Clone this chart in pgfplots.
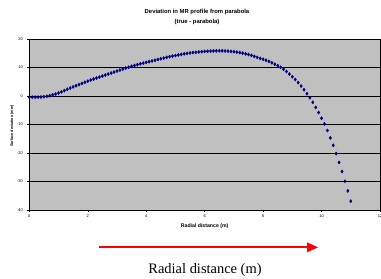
\documentclass[border=0pt]{standalone}
\usepackage{fontspec}
\setmainfont{Liberation Sans}
\newfontfamily\serifvery{Liberation Serif}
\usepackage{pgfplots}
\pgfplotsset{compat=1.18}
\usepackage{pgfplotstable}
\definecolor{navy}{RGB}{0,0,128}
\definecolor{plotgray}{RGB}{192,192,192}
\pgfplotstableread{
x y
0.0 -0.4
0.1 -0.4
0.2 -0.4
0.3 -0.4
0.4 -0.35
0.5 -0.25
0.6 -0.1
0.7 0.1
0.8 0.4
0.9 0.7
1.0 1.05
1.1 1.45
1.2 1.9
1.3 2.35
1.4 2.8
1.5 3.2
1.6 3.6
1.7 4.0
1.8 4.4
1.9 4.8
2.0 5.2
2.1 5.6
2.2 5.95
2.3 6.3
2.4 6.65
2.5 7.0
2.6 7.35
2.7 7.7
2.8 8.05
2.9 8.4
3.0 8.75
3.1 9.1
3.2 9.45
3.3 9.8
3.4 10.1
3.5 10.4
3.6 10.7
3.7 11.0
3.8 11.3
3.9 11.55
4.0 11.8
4.1 12.05
4.2 12.3
4.3 12.55
4.4 12.8
4.5 13.05
4.6 13.3
4.7 13.55
4.8 13.8
4.9 14.0
5.0 14.2
5.1 14.4
5.2 14.6
5.3 14.8
5.4 14.95
5.5 15.1
5.6 15.25
5.7 15.35
5.8 15.45
5.9 15.55
6.0 15.65
6.1 15.7
6.2 15.75
6.3 15.8
6.4 15.85
6.5 15.85
6.6 15.85
6.7 15.8
6.8 15.75
6.9 15.65
7.0 15.55
7.1 15.4
7.2 15.25
7.3 15.05
7.4 14.8
7.5 14.55
7.6 14.25
7.7 13.9
7.8 13.55
7.9 13.2
8.0 12.9
8.1 12.55
8.2 12.15
8.3 11.65
8.4 11.15
8.5 10.65
8.6 10.1
8.7 9.4
8.8 8.6
8.9 7.7
9.0 6.75
9.1 5.8
9.2 4.7
9.3 3.5
9.4 2.2
9.5 0.8
9.6 -0.6
9.7 -2.2
9.8 -4.0
9.9 -5.8
10.0 -7.8
10.1 -9.8
10.2 -12.1
10.3 -14.7
10.4 -17.3
10.5 -20.2
10.6 -23.3
10.7 -26.5
10.8 -29.9
10.9 -33.3
11.0 -36.9
}\dev
\begin{document}
\begin{tikzpicture}[x=1bp,y=1bp]
\useasboundingbox (0,0) rectangle (381,279);
\fill[white] (0,0) rectangle (381,279);
\begin{axis}[
  at={(29.3bp,69bp)}, anchor=south west,
  scale only axis, width=350.7bp, height=171bp,
  xmin=0, xmax=12, ymin=-40, ymax=20,
  xtick={0,2,...,12}, ytick={-40,-30,...,20},
  axis background/.style={fill=plotgray},
  axis line style={black, line width=0.9bp},
  ymajorgrids, grid style={black, line width=0.7bp},
  tick align=outside, major tick length=2bp,
  tick style={black, line width=0.5bp},
  xtick pos=bottom, ytick pos=left,
  /pgf/number format/assume math mode=true,
  ticklabel style={font=\fontsize{4}{5}\selectfont},
  xticklabel style={yshift=1bp},
  yticklabel style={xshift=-1bp},
  xlabel={\fontsize{5.2}{6}\selectfont\bfseries Radial distance (m)},
  ylabel={\fontsize{3.8}{4.5}\selectfont\bfseries Surface deviation (mm)},
  xlabel style={at={(axis description cs:0.5,-0.094)}, anchor=center},
  ylabel style={at={(axis description cs:-0.049,0.491)}, anchor=center},
  clip=false,
]
\addplot[only marks, mark=diamond*, mark size=1.6bp, color=navy] table[x=x,y=y] {\dev};
\end{axis}
\node[font=\fontsize{5.9}{7}\selectfont\bfseries] at (197,279-12.3) {Deviation in MR profile from parabola};
\node[font=\fontsize{5.9}{7}\selectfont\bfseries] at (197,279-22) {(true - parabola)};
\draw[red, line width=2bp] (99,279-247.3) -- (308,279-247.3);
\fill[red] (318,279-247.3) -- (307,279-242.3) -- (307,279-252.3) -- cycle;
\node[font=\serifvery\fontsize{14.5}{16}\selectfont, anchor=base] at (205,279-273) {Radial distance (m)};
\end{tikzpicture}
\end{document}
